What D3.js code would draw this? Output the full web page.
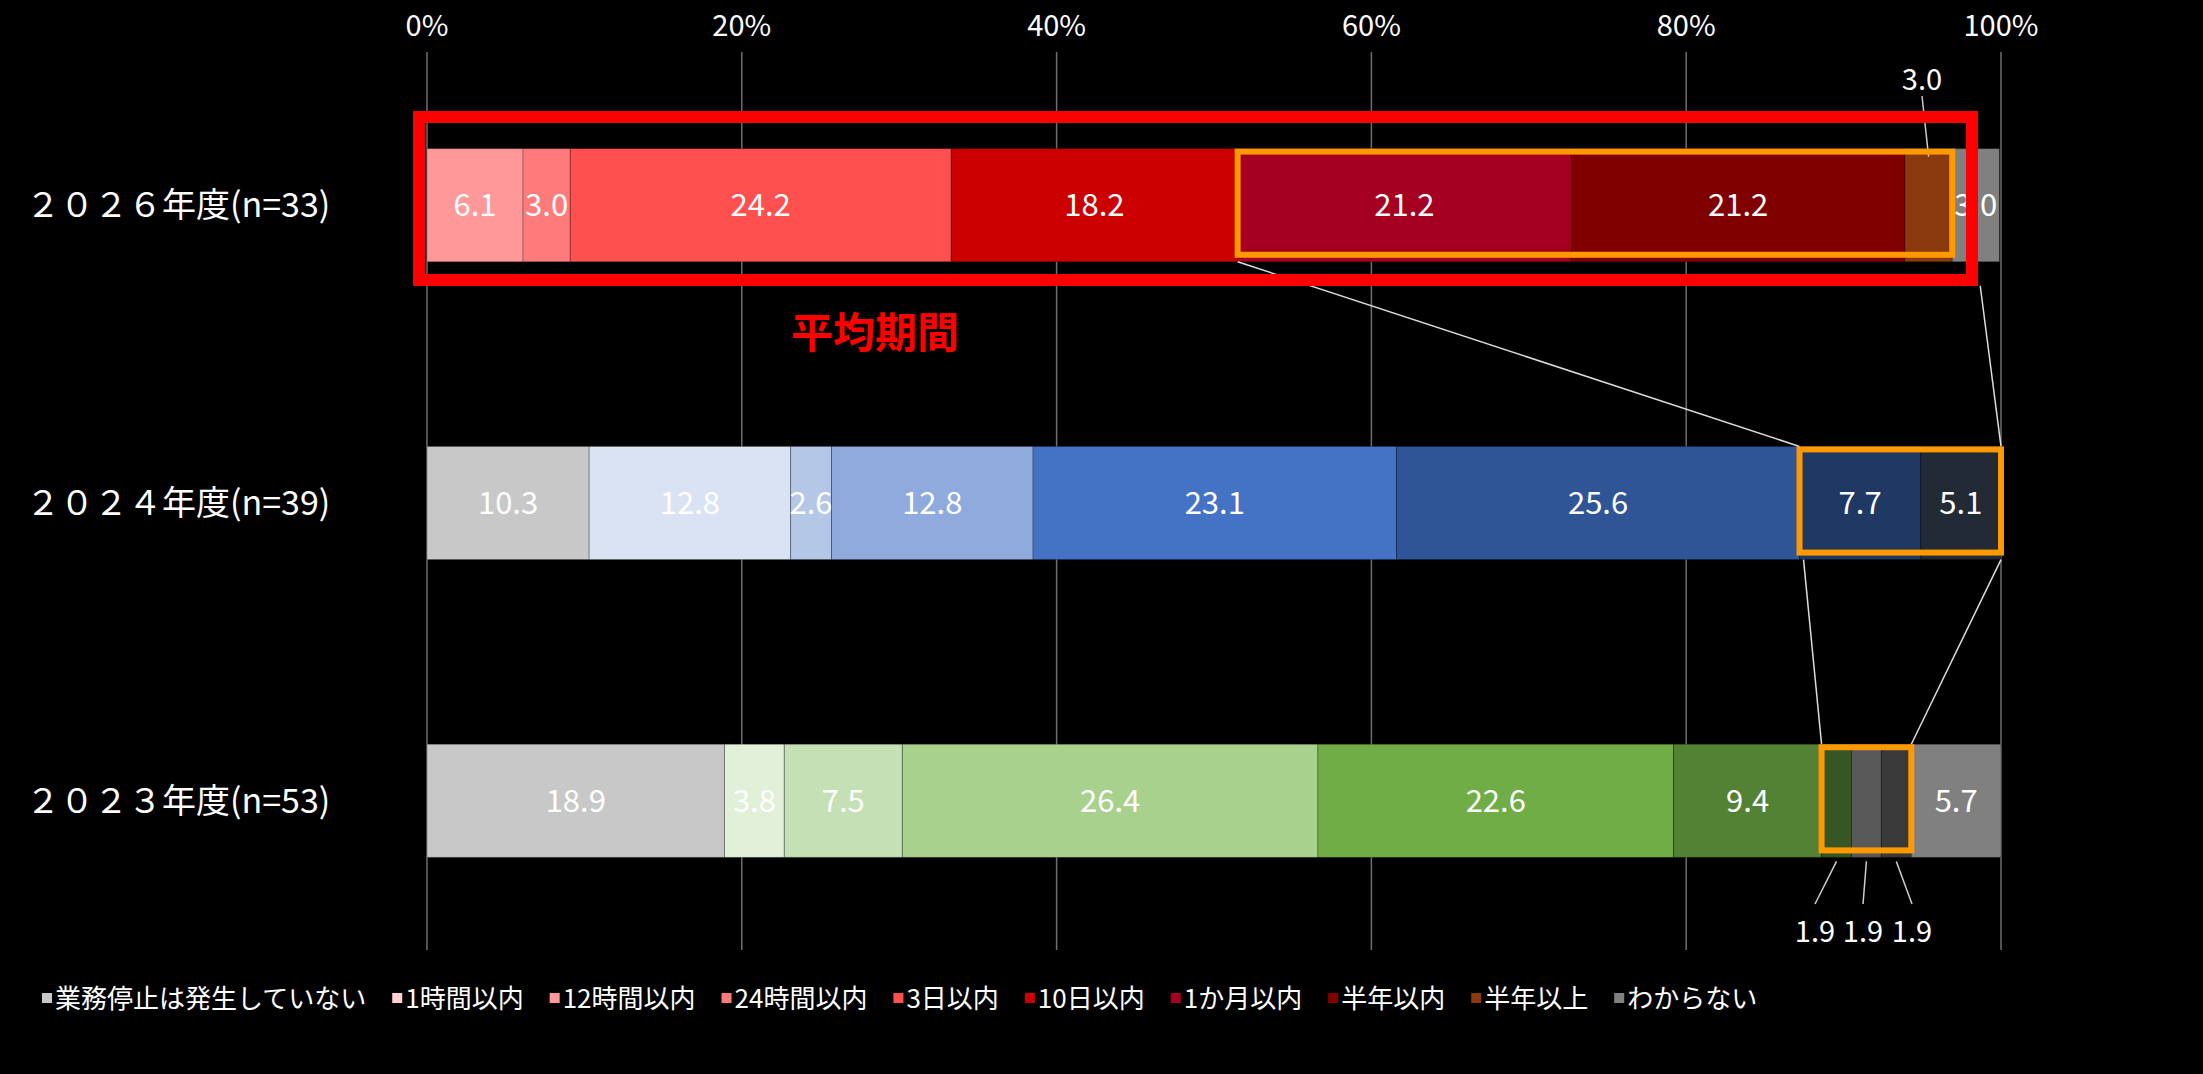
<!DOCTYPE html>
<html><head><meta charset="utf-8">
<script src="https://cdn.jsdelivr.net/npm/d3@7"></script>
<style>body{margin:0;background:#000}svg{display:block;font-family:"Noto Sans CJK JP","Noto Sans",sans-serif}</style>
</head><body><svg id="c" width="2203" height="1074"></svg>
<script>
// categories and data
var categories = ['業務停止は発生していない','1時間以内','12時間以内','24時間以内','3日以内','10日以内','1か月以内','半年以内','半年以上','わからない'];
var rows = ['２０２６年度(n=33)','２０２４年度(n=39)','２０２３年度(n=53)'];
var v2026 = [0, 0, 6.1, 3.0, 24.2, 18.2, 21.2, 21.2, 3.0, 3.0];
var v2024 = [10.3, 12.8, 2.6, 12.8, 23.1, 25.6, 7.7, 5.1, 0, 0];
var v2023 = [18.9, 3.8, 7.5, 26.4, 22.6, 9.4, 1.9, 1.9, 1.9, 5.7];
var c2026 = ['#c8c8c8','#ffd0d0','#ff9999','#ff7b7b','#ff5050','#cc0000','#a50021','#800000','#8b3a0f','#808080'];
var c2024 = ['#c8c8c8','#dae3f3','#b4c7e7','#8faadc','#4472c4','#2f5597','#1f3864','#222a35','#444','#808080'];
var c2023 = ['#c8c8c8','#e2f0d9','#c5e0b4','#a9d18e','#70ad47','#548235','#375623','#595959','#3a3a3a','#808080'];
var ticks = [0, 20, 40, 60, 80, 100];
var series = [v2026, v2024, v2023];
var palettes = [c2026, c2024, c2023];

var svg = d3.select('#c');
var x = d3.scaleLinear().domain([0, 100]).range([427, 2001]);
var y = d3.scaleBand().domain(rows).range([95, 911]).paddingInner(0.62).paddingOuter(0.18);

// grid + top axis
svg.selectAll('.g').data(ticks).enter().append('line')
  .attr('x1', d => x(d)).attr('x2', d => x(d)).attr('y1', 52).attr('y2', 950)
  .attr('stroke', '#6e6e6e').attr('stroke-width', 1.5);
svg.selectAll('.t').data(ticks).enter().append('text')
  .attr('x', d => x(d)).attr('y', 36).attr('text-anchor', 'middle')
  .attr('fill', '#fff').attr('font-size', 29).text(d => d + '%');

// row labels
svg.selectAll('.r').data(rows).enter().append('text')
  .attr('x', 26).attr('y', d => y(d) + y.bandwidth() / 2 + 12)
  .attr('fill', '#fff').attr('font-size', 34).text(d => d);

// stacked bars
function starts(vals) { var s = [], acc = 0; vals.forEach(v => { s.push(acc); acc += v; }); return s; }
series.forEach(function(vals, ri) {
  var st = starts(vals), yy = y(rows[ri]), h = y.bandwidth();
  var g = svg.append('g');
  vals.forEach(function(v, i) {
    if (!v) return;
    g.append('rect').attr('x', x(st[i])).attr('y', yy).attr('width', x(st[i] + v) - x(st[i])).attr('height', h)
      .attr('fill', palettes[ri][i]).attr('stroke', '#000').attr('stroke-opacity', 0.25).attr('stroke-width', 1);
    var small = (ri === 0 && i === 8) || (ri === 2 && i >= 6 && i <= 8);
    if (!small) {
      g.append('text').attr('x', x(st[i] + v / 2)).attr('y', yy + h / 2 + 11).attr('text-anchor', 'middle')
        .attr('fill', '#fff').attr('font-size', 31).text(v.toFixed(1));
    }
  });
});

// outside labels with leaders
var st26 = starts(v2026), y26 = y(rows[0]);
var lx = x(st26[8] + v2026[8] / 2);
svg.append('line').attr('x1', 1922).attr('y1', 96).attr('x2', lx).attr('y2', y26 + 8).attr('stroke', '#ccc').attr('stroke-width', 1.5);
svg.append('text').attr('x', 1922).attr('y', 90).attr('text-anchor', 'middle').attr('fill', '#fff').attr('font-size', 29).text(v2026[8].toFixed(1));
var st23 = starts(v2023), y23 = y(rows[2]) + y.bandwidth();
var labX = [1815, 1863, 1912];
[6, 7, 8].forEach(function(i, k) {
  svg.append('line').attr('x1', x(st23[i] + v2023[i] / 2)).attr('y1', y23 + 4).attr('x2', labX[k]).attr('y2', 904)
    .attr('stroke', '#ccc').attr('stroke-width', 1.5);
  svg.append('text').attr('x', labX[k]).attr('y', 942).attr('text-anchor', 'middle').attr('fill', '#fff').attr('font-size', 29).text(v2023[i].toFixed(1));
});

// highlight boxes and connectors
function box(vals, ri, a, b) {
  var s = starts(vals), yy = y(rows[ri]);
  return {x0: x(s[a]), x1: x(s[b] + vals[b]), y0: yy, y1: yy + y.bandwidth()};
}
var b26 = box(v2026, 0, 6, 8), b24 = box(v2024, 1, 6, 7), b23 = box(v2023, 2, 6, 8);
var conns = [[b26.x0, b26.y1, b24.x0, b24.y0], [b26.x1 + 28, b26.y1 + 24, b24.x1, b24.y0],
             [b24.x0 + 4, b24.y1, b23.x0, b23.y0], [b24.x1, b24.y1, b23.x1, b23.y0]];
svg.selectAll('.cn').data(conns).enter().append('line')
  .attr('x1', d => d[0]).attr('y1', d => d[1]).attr('x2', d => d[2]).attr('y2', d => d[3])
  .attr('stroke', '#ddd').attr('stroke-width', 1.5);
[b26, b24, b23].forEach(function(b) {
  svg.append('rect').attr('x', b.x0).attr('y', b.y0 + 3).attr('width', b.x1 - b.x0).attr('height', b.y1 - b.y0 - 10)
    .attr('fill', 'none').attr('stroke', '#ff9900').attr('stroke-width', 6);
});
svg.append('rect').attr('x', 419).attr('y', 117).attr('width', 1553).attr('height', 163)
  .attr('fill', 'none').attr('stroke', '#ff0000').attr('stroke-width', 12);
svg.append('text').attr('x', 875).attr('y', 348).attr('text-anchor', 'middle').attr('fill', '#ff0000')
  .attr('font-size', 42).attr('font-weight', 'bold').text('平均期間');

// legend
var lg = svg.append('g'), lxp = 42;
categories.forEach(function(c, i) {
  lg.append('rect').attr('x', lxp).attr('y', 993).attr('width', 10).attr('height', 10).attr('fill', c2026[i]);
  var t = lg.append('text').attr('x', lxp + 13).attr('y', 1008).attr('fill', '#fff').attr('font-size', 26).text(c);
  lxp += 13 + t.node().getComputedTextLength() + 26;
});
</script></body></html>
